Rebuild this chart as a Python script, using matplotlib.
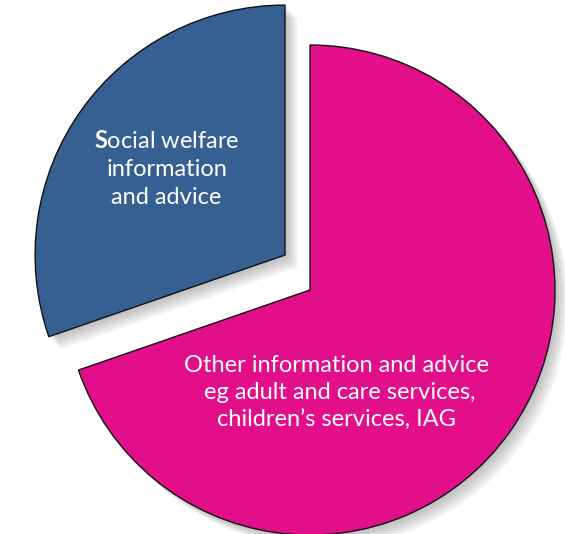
"""Exploded two-slice pie: social welfare vs other information and advice."""

import matplotlib

matplotlib.use("Agg")
import matplotlib.pyplot as plt
from matplotlib.patches import Shadow

CATEGORIES = [
    "Other information and advice\n eg adult and care services,\nchildren\u2019s services, IAG",
    "$\\mathbf{S}$ocial welfare\ninformation\nand advice",
]
SHARES = [69.7, 30.3]
COLORS = ["#E30F8A", "#366092"]

# pixel geometry of the reference
W, H = 565, 534
CX, CY, R = 310, 290, 245
BLUE_SHIFT = (-25 / R, 35 / R)


def main() -> None:
    plt.rcParams["font.family"] = ["Lato", "DejaVu Sans"]
    plt.rcParams["mathtext.fontset"] = "custom"
    plt.rcParams["mathtext.rm"] = "Lato"
    plt.rcParams["mathtext.bf"] = "Lato:bold"

    fig = plt.figure(figsize=(W / 100, H / 100), dpi=100)
    ax = fig.add_axes([0, 0, 1, 1])

    wedges, _ = ax.pie(
        SHARES,
        colors=COLORS,
        startangle=90,
        counterclock=False,
        wedgeprops={"edgecolor": "#111111", "linewidth": 1.0},
    )
    wedges[1].set_center(BLUE_SHIFT)
    wedges[1].set_radius(1.02)

    # soft drop shadow towards lower right
    for w in wedges:
        for k in range(1, 7):
            off = 0.006 * k
            sh = Shadow(w, off, -off, facecolor="0.35", edgecolor="none",
                        alpha=0.07)
            sh.set_zorder(w.get_zorder() - 1)
            ax.add_patch(sh)

    ax.text(0.11, -0.42, CATEGORIES[0], color="white", fontsize=17,
            ha="center", va="center", linespacing=1.4)
    ax.text(-0.585, 0.495, CATEGORIES[1], color="white", fontsize=17,
            ha="center", va="center", linespacing=1.4)

    ax.set_xlim(-CX / R, (W - CX) / R)
    ax.set_ylim(-(H - CY) / R, CY / R)
    ax.set_aspect("auto")
    ax.axis("off")

    fig.savefig("out.png", dpi=100)
    plt.close(fig)


if __name__ == "__main__":
    main()
